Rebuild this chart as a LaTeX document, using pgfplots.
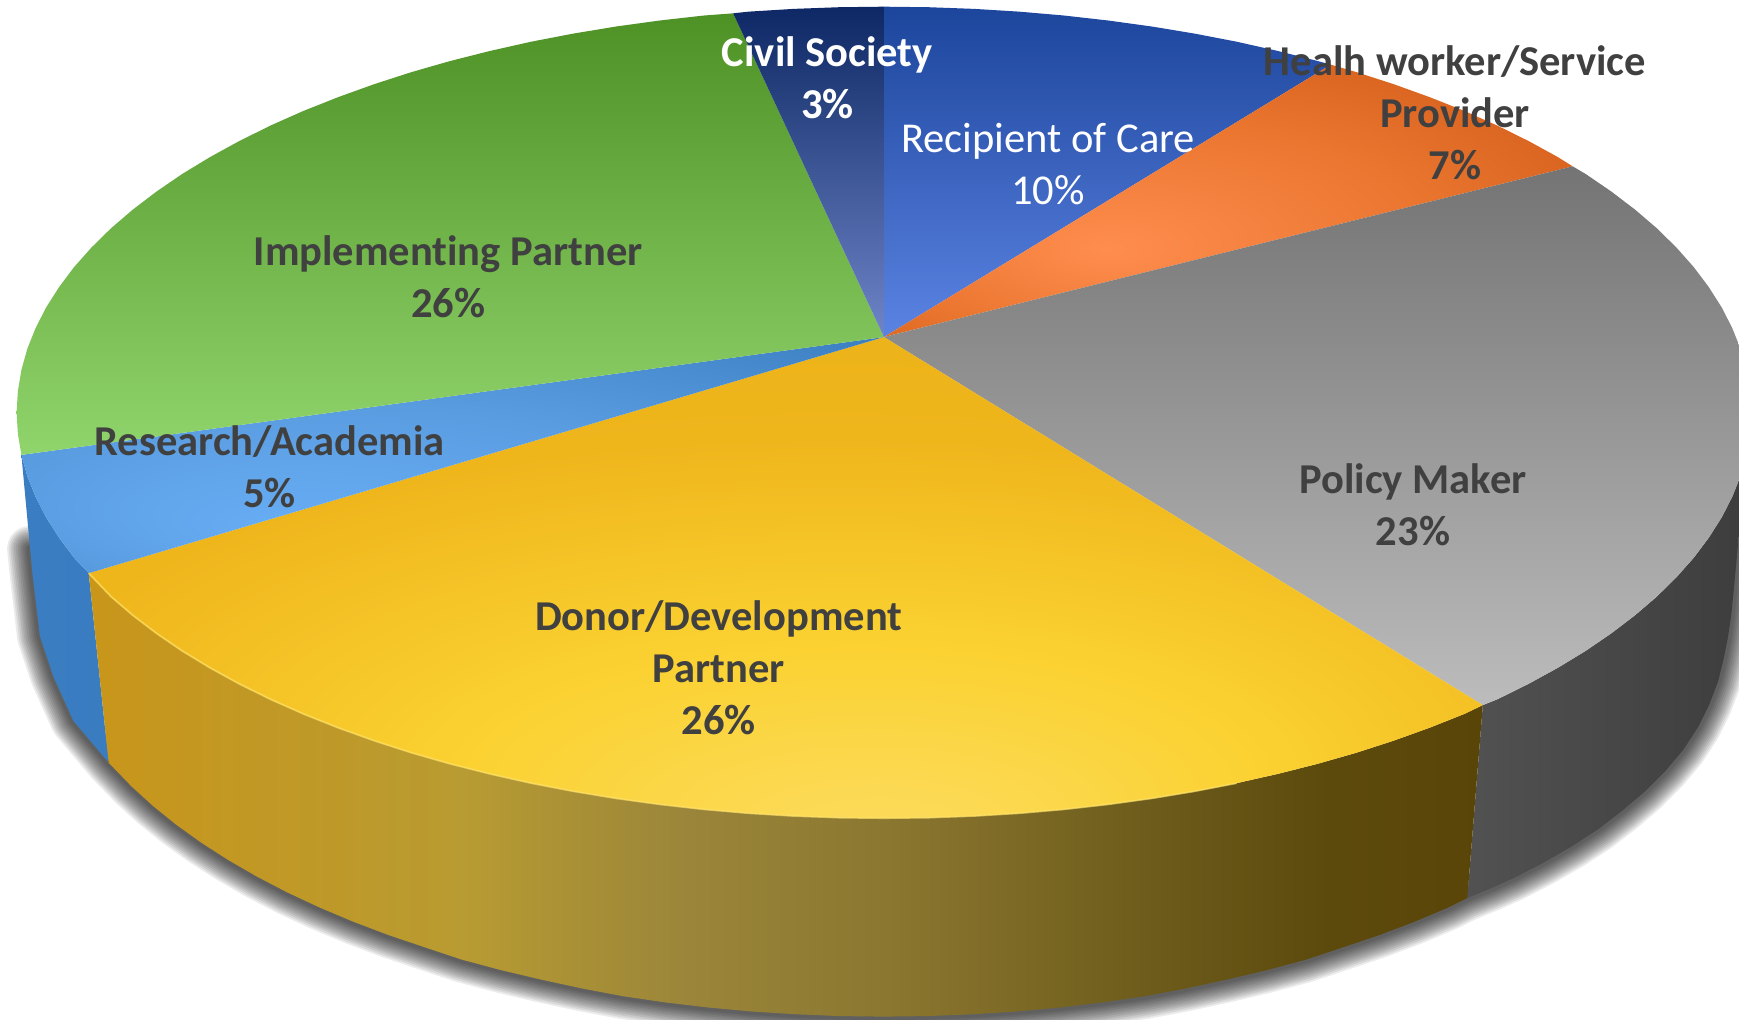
\documentclass[border=0pt]{standalone}
\usepackage{fontspec}
\setmainfont[Ligatures=NoCommon]{Carlito}
\usepackage{pgfplots}
\usepackage{pgfplotstable}
\pgfplotsset{compat=1.18}
\definecolor{lab}{HTML}{404040}
% top-surface shadings
\definecolor{dA}{HTML}{FCDC60}\definecolor{dB}{HTML}{FBD232}\definecolor{dC}{HTML}{EFB61C}\definecolor{dD}{HTML}{E6A812}
\pgfdeclareradialshading{donortop}{\pgfpoint{3.5bp}{-28bp}}{color(0bp)=(dA);color(14bp)=(dB);color(29bp)=(dC);color(60bp)=(dD)}
\definecolor{oA}{HTML}{FF8D4E}\definecolor{oB}{HTML}{EA7630}\definecolor{oC}{HTML}{CC5814}
\pgfdeclareradialshading{orangetop}{\pgfpoint{-9bp}{-9bp}}{color(0bp)=(oA);color(20bp)=(oB);color(40bp)=(oC);color(60bp)=(oC)}
\definecolor{rA}{HTML}{68AEF5}\definecolor{rB}{HTML}{5A9CE0}\definecolor{rC}{HTML}{2A6FB0}
\pgfdeclareradialshading{researchtop}{\pgfpoint{-10bp}{-16bp}}{color(0bp)=(rA);color(20bp)=(rB);color(50bp)=(rC)}
% donor side, horizontal
\definecolor{s1}{HTML}{C9961A}\definecolor{s2}{HTML}{B89B32}\definecolor{s3}{HTML}{9A853A}\definecolor{s4}{HTML}{8C7730}\definecolor{s5}{HTML}{6B5A1A}\definecolor{s6}{HTML}{5C4A0C}\definecolor{s7}{HTML}{5A4508}
\pgfdeclarehorizontalshading{donorside}{100bp}{color(0bp)=(s1);color(25bp)=(s1);color(38.5bp)=(s2);color(46.5bp)=(s3);color(53.6bp)=(s4);color(63.6bp)=(s5);color(69.5bp)=(s6);color(75bp)=(s7);color(100bp)=(s7)}
% outline of the pie's foot, for its soft shadow
\pgfplotstableread{
x y
27 495
29 515
36 574
48 610
66 650
98 688
119 709.7
138 727
158.8 743.8
181.3 760
205.6 775.6
231.5 790.6
258.9 804.9
287.8 818.4
318.1 831.2
349.7 843.2
382.5 854.3
416.5 865.6
451.5 875
487.5 883.5
524.3 891.5
561.8 898.6
600 904.2
638.8 908.8
678 912.4
717.5 914.9
757.2 916.5
797 917
836.8 916.5
876.5 914.9
916 912.4
955.2 908.8
994 904.2
1032.2 898.6
1069.7 891.5
1106.5 883.5
1142.5 875
1177.5 865.6
1211.5 854.3
1244.3 843.2
1275.9 831.2
1306.2 818.4
1323 810
1345 801
1365 792
1392 778
1418 763
1441 748
1463 731
1483 714
1502 695
1518 676
1531 656
1541 636
1549 615
1554 595
1558 575
1561 555
1563 535
1566 480
}\shadowedge
\pgfplotstableread{
x y
80 517
100.2 538.2
119.8 555
141.2 571.3
164.3 587.1
189.3 602.3
215.9 616.9
244 630.8
273.7 644
304.9 656.4
337.4 668.1
371.1 679
406 689
442 698.1
478.9 706.4
516.8 713.7
555.4 720.1
594.6 725.5
634.4 730
674.7 733.5
715.3 736
756.1 737.5
797 738
837.9 737.5
878.7 736
919.3 733.5
959.6 730
999.4 725.5
1038.6 720.1
1077.2 713.7
1115.1 706.4
}\donorrim
\begin{document}
\begin{tikzpicture}
\useasboundingbox (0,0) rectangle (494.8pt,290.2pt);
\begin{axis}[at={(0,0)},anchor=south west,scale only axis,width=494.8pt,height=290.2pt,
  xmin=0,xmax=1568,ymin=0,ymax=920,y dir=reverse,axis lines=none,clip=true]
% shadow
\pgfplotsinvokeforeach{13,12,11,10,9,8,7,6,5,4,3,2}{
\addplot[draw=black,line width=#1pt,draw opacity=.08,line join=round,line cap=round] table[x=x,y=y]{\shadowedge};
}
% sides
\addplot[draw=none,left color=black!68,middle color=black!72,right color=black!76] coordinates {
(1337,636)(1350,630.8)(1378.1,616.9)(1404.7,602.3)(1429.7,587.1)(1452.8,571.3)(1474.2,555)(1493.8,538.2)(1511.4,520.9)(1527.1,503.2)(1540.7,485.1)(1552.4,466.7)(1561.9,448.1)(1569.4,429.3)(1574.7,410.3)
(1563,535)(1561,555)(1558,575)(1554,595)(1549,615)(1541,636)(1531,656)(1518,676)(1502,695)(1483,714)(1463,731)(1441,748)(1418,763)(1392,778)(1365,792)(1345,801)(1323,810)} --cycle;
\addplot[draw=none,left color={rgb,255:red,58;green,125;blue,194},middle color={rgb,255:red,68;green,120;blue,176},right color={rgb,255:red,58;green,124;blue,192}] coordinates {
(19.3,410.3)(24.6,429.3)(32.1,448.1)(41.6,466.7)(53.3,485.1)(66.9,503.2)(80,517)(98,688)(66,650)(48,610)(36,574)(29,515)} --cycle;
\addplot[draw=none,shading=donorside] coordinates {
(80,517)(100.2,538.2)(119.8,555)(141.2,571.3)(164.3,587.1)(189.3,602.3)(215.9,616.9)(244,630.8)(273.7,644)(304.9,656.4)(337.4,668.1)(371.1,679)(406,689)(442,698.1)(478.9,706.4)(516.8,713.7)(555.4,720.1)(594.6,725.5)(634.4,730)(674.7,733.5)(715.3,736)(756.1,737.5)(797,738)(837.9,737.5)(878.7,736)(919.3,733.5)(959.6,730)(999.4,725.5)(1038.6,720.1)(1077.2,713.7)(1115.1,706.4)(1152,698.1)(1188,689)(1222.9,679)(1256.6,668.1)(1289.1,656.4)(1320.3,644)(1337,636)
(1323,810)(1306.2,818.4)(1275.9,831.2)(1244.3,843.2)(1211.5,854.3)(1177.5,865.6)(1142.5,875)(1106.5,883.5)(1069.7,891.5)(1032.2,898.6)(994,904.2)(955.2,908.8)(916,912.4)(876.5,914.9)(836.8,916.5)(797,917)(757.2,916.5)(717.5,914.9)(678,912.4)(638.8,908.8)(600,904.2)(561.8,898.6)(524.3,891.5)(487.5,883.5)(451.5,875)(416.5,865.6)(382.5,854.3)(349.7,843.2)(318.1,831.2)(287.8,818.4)(258.9,804.9)(231.5,790.6)(205.6,775.6)(181.3,760)(158.8,743.8)(138,727)(119,709.7)(98,688)} --cycle;
% top: recipient of care
\addplot[draw=none,top color={rgb,255:red,28;green,69;blue,156},bottom color={rgb,255:red,91;green,131;blue,226}] coordinates {
(797,304)(797,6)(837.9,6.5)(878.7,8)(919.3,10.5)(959.6,14)(999.4,18.5)(1038.6,23.9)(1077.2,30.3)(1115.1,37.6)(1152,45.9)(1188,55)(1200,58.3)} --cycle;
% health worker
\addplot[draw=none,shading=orangetop] coordinates {
(797,304)(1200,58.3)(1222.9,65)(1256.6,75.9)(1289.1,87.6)(1320.3,100)(1350,113.2)(1378.1,127.1)(1404.7,141.7)(1418,150)} --cycle;
% policy maker
\addplot[draw=none,top color={rgb,255:red,116;green,116;blue,116},bottom color={rgb,255:red,188;green,188;blue,188}] coordinates {
(797,304)(1418,150)(1429.7,156.9)(1452.8,172.7)(1474.2,189)(1493.8,205.8)(1511.4,223.1)(1527.1,240.8)(1540.7,258.9)(1552.4,277.3)(1561.9,295.9)(1569.4,314.7)(1574.7,333.7)(1577.9,352.8)(1579,372)(1577.9,391.2)(1574.7,410.3)(1569.4,429.3)(1561.9,448.1)(1552.4,466.7)(1540.7,485.1)(1527.1,503.2)(1511.4,520.9)(1493.8,538.2)(1474.2,555)(1452.8,571.3)(1429.7,587.1)(1404.7,602.3)(1378.1,616.9)(1350,630.8)(1337,636)} --cycle;
% donor
\addplot[draw=none,shading=donortop] coordinates {
(797,304)(1337,636)(1320.3,644)(1289.1,656.4)(1256.6,668.1)(1222.9,679)(1188,689)(1152,698.1)(1115.1,706.4)(1077.2,713.7)(1038.6,720.1)(999.4,725.5)(959.6,730)(919.3,733.5)(878.7,736)(837.9,737.5)(797,738)(756.1,737.5)(715.3,736)(674.7,733.5)(634.4,730)(594.6,725.5)(555.4,720.1)(516.8,713.7)(478.9,706.4)(442,698.1)(406,689)(371.1,679)(337.4,668.1)(304.9,656.4)(273.7,644)(244,630.8)(215.9,616.9)(189.3,602.3)(164.3,587.1)(141.2,571.3)(119.8,555)(100.2,538.2)(80,517)} --cycle;
% research
\addplot[draw=none,shading=researchtop] coordinates {
(797,304)(80,517)(66.9,503.2)(53.3,485.1)(41.6,466.7)(32.1,448.1)(24.6,429.3)(19.3,410.3)} --cycle;
% implementing
\addplot[draw=none,top color={rgb,255:red,78;green,146;blue,38},bottom color={rgb,255:red,144;green,212;blue,108}] coordinates {
(797,304)(19.3,410.3)(16.1,391.2)(15,372)(16.1,352.8)(19.3,333.7)(24.6,314.7)(32.1,295.9)(41.6,277.3)(53.3,258.9)(66.9,240.8)(82.6,223.1)(100.2,205.8)(119.8,189)(141.2,172.7)(164.3,156.9)(189.3,141.7)(215.9,127.1)(244,113.2)(273.7,100)(304.9,87.6)(337.4,75.9)(371.1,65)(406,55)(442,45.9)(478.9,37.6)(516.8,30.3)(555.4,23.9)(594.6,18.5)(634.4,14)(661,12)} --cycle;
% civil society
\addplot[draw=none,top color={rgb,255:red,13;green,40;blue,100},bottom color={rgb,255:red,110;green,133;blue,200}] coordinates {
(797,304)(661,12)(674.7,10.5)(715.3,8)(756.1,6.5)(797,6)} --cycle;
% rim highlight
\addplot[draw={rgb,255:red,255;green,225;blue,100},line width=.5pt,draw opacity=.7] table[x=x,y=y]{\donorrim};
% labels
\tikzset{lbl/.style={align=center,font=\fontsize{12.1}{14.8}\selectfont,inner sep=0pt}}
\node[lbl,text=white] at (axis cs:746,70) {\bfseries Civil Society\\\bfseries 3\%};
\node[lbl,text=white] at (axis cs:945,148) {Recipient of Care\\10\%};
\node[lbl,text=lab] at (axis cs:1312,102) {\bfseries Healh worker/Service\\\bfseries Provider\\\bfseries 7\%};
\node[lbl,text=lab] at (axis cs:404,250) {\bfseries Implementing Partner\\\bfseries 26\%};
\node[lbl,text=lab] at (axis cs:243,421) {\bfseries Research/Academia\\\bfseries 5\%};
\node[lbl,text=lab] at (axis cs:648,602) {\bfseries Donor/Development\\\bfseries Partner\\\bfseries 26\%};
\node[lbl,text=lab] at (axis cs:1274,455.5) {\bfseries Policy Maker\\\bfseries 23\%};
\end{axis}
\end{tikzpicture}
\end{document}
